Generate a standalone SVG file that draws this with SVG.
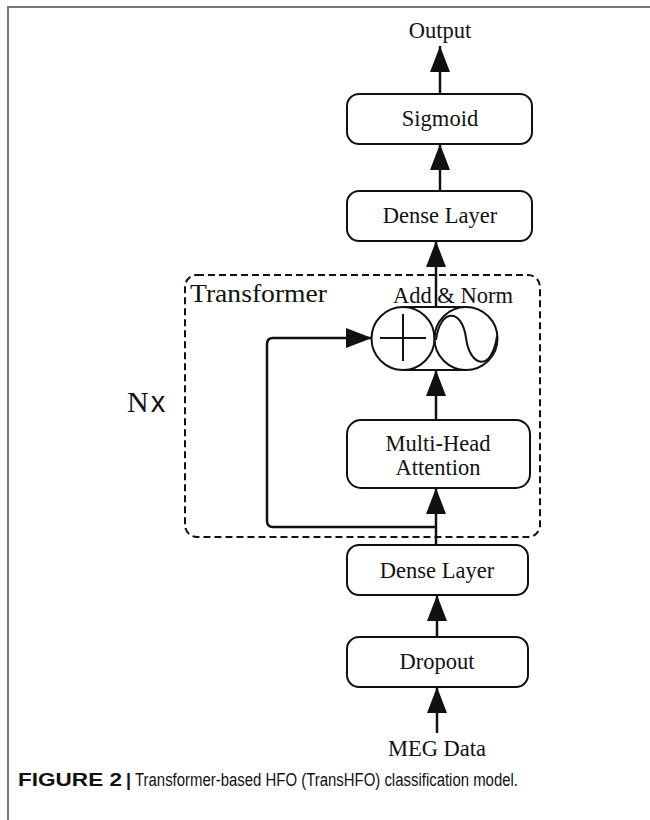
<svg xmlns="http://www.w3.org/2000/svg" width="650" height="820" viewBox="0 0 650 820">
<style>
.box{fill:#fff;stroke:#111;stroke-width:2}
.lbl{font-family:"Liberation Serif",serif;font-size:22.5px;fill:#111;text-anchor:middle}
.con{fill:none;stroke:#111;stroke-width:2.5}
.frame{stroke:#777;stroke-width:2;fill:none}
</style>
<defs>
<marker id="arr" markerUnits="userSpaceOnUse" markerWidth="27" markerHeight="21" refX="26" refY="10" orient="auto">
<path d="M0,0 L26,10 L0,20 z" fill="#111"/>
</marker>
</defs>
<rect width="650" height="820" fill="#fff"/>
<path class="frame" d="M8,820 L8,7 L650,7"/>

<g id="transformer">
<rect x="185" y="275" width="355" height="262" rx="12" fill="none" stroke="#111" stroke-width="2" stroke-dasharray="7 4"/>
<text x="190" y="302" font-family="Liberation Serif,serif" font-size="26" fill="#111" textLength="137" lengthAdjust="spacingAndGlyphs">Transformer</text>
</g>
<g id="nx">
<text x="127" y="412" font-family="Liberation Serif,serif" font-size="30" fill="#111">N<tspan font-family="Liberation Sans,sans-serif" font-size="29" dx="2">x</tspan></text>
</g>

<g id="connectors">
<path class="con" d="M437,733 L437,687" marker-end="url(#arr)"/>
<path class="con" d="M437,637 L437,595" marker-end="url(#arr)"/>
<path class="con" d="M436,545 L436,488" marker-end="url(#arr)"/>
<path class="con" d="M436,527 L273,527 Q267,527 267,521 L267,344 Q267,338 273,338 L372,338" marker-end="url(#arr)"/>
<path class="con" d="M436,420 L436,370" marker-end="url(#arr)"/>
<path class="con" d="M436,307 L436,241" marker-end="url(#arr)"/>
<path class="con" d="M440,191 L440,144" marker-end="url(#arr)"/>
<path class="con" d="M440,94 L440,46" marker-end="url(#arr)"/>
</g>

<g id="output"><text class="lbl" x="440" y="38">Output</text></g>
<g id="sigmoid"><rect class="box" x="347" y="94" width="185" height="50" rx="12"/><text class="lbl" x="440" y="126">Sigmoid</text></g>
<g id="dense-top"><rect class="box" x="347" y="191" width="185" height="50" rx="12"/><text class="lbl" x="440" y="223">Dense Layer</text></g>

<g id="add-norm">
<text class="lbl" x="453" y="303" font-size="23.5">Add &amp; Norm</text>
<line x1="403" y1="307" x2="466" y2="307" stroke="#111" stroke-width="2"/>
<line x1="403" y1="370" x2="466" y2="370" stroke="#111" stroke-width="2"/>
<circle cx="403" cy="338.5" r="31.5" fill="#fff" stroke="#111" stroke-width="2"/>
<circle cx="466" cy="338.5" r="31.5" fill="#fff" stroke="#111" stroke-width="2"/>
<path d="M380,338 L426,338 M403,314 L403,361" stroke="#111" stroke-width="2" fill="none"/>
<path d="M436,340 C440,308 462,308 466,338 C470,368 492,372 497,336" stroke="#111" stroke-width="2" fill="none"/>
</g>

<g id="mha"><rect class="box" x="347" y="420" width="183" height="68" rx="14"/><text class="lbl" x="438" y="451">Multi-Head</text><text class="lbl" x="438" y="475">Attention</text></g>
<g id="dense-bottom"><rect class="box" x="347" y="545" width="181" height="50" rx="12"/><text class="lbl" x="437" y="578">Dense Layer</text></g>
<g id="dropout"><rect class="box" x="347" y="637" width="181" height="50" rx="12"/><text class="lbl" x="437" y="669">Dropout</text></g>
<g id="meg"><text class="lbl" x="437" y="756">MEG Data</text></g>

<g id="caption">
<text x="18" y="786" font-family="Liberation Sans,sans-serif" font-size="18" font-weight="bold" fill="#111" textLength="104" lengthAdjust="spacingAndGlyphs">FIGURE 2</text>
<text x="126" y="786" font-family="Liberation Sans,sans-serif" font-size="18" font-weight="bold" fill="#111">|</text>
<text x="135" y="786" font-family="Liberation Sans,sans-serif" font-size="18" fill="#111" textLength="383" lengthAdjust="spacingAndGlyphs">Transformer-based HFO (TransHFO) classification model.</text>
</g>
</svg>
